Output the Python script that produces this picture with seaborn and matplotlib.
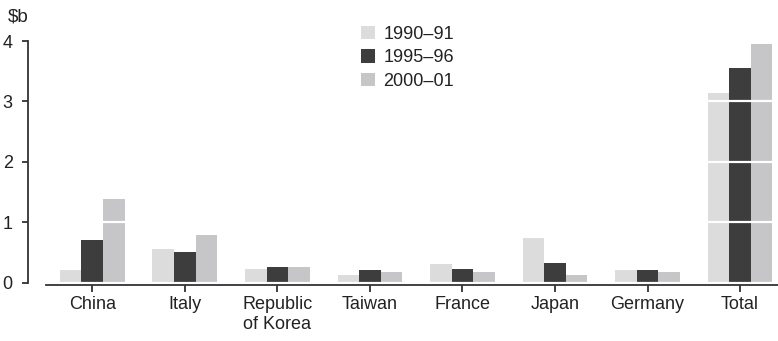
import pandas as pd
import seaborn as sns
import matplotlib.pyplot as plt

sns.set_style("white")
plt.rcParams['font.family'] = ['Liberation Sans', 'DejaVu Sans']

countries = ["China", "Italy", "Republic\nof Korea", "Taiwan", "France", "Japan", "Germany", "Total"]
years = ["1990–91", "1995–96", "2000–01"]
v_1990 = [0.21, 0.55, 0.23, 0.12, 0.30, 0.74, 0.21, 3.14]
v_1995 = [0.71, 0.50, 0.26, 0.21, 0.23, 0.33, 0.21, 3.55]
v_2000 = [1.39, 0.78, 0.26, 0.17, 0.17, 0.12, 0.17, 3.95]
colours = ["#dcdcdd", "#3d3d3d", "#c6c6c8"]

df = pd.DataFrame({
    "country": countries * 3,
    "year": [years[0]] * 8 + [years[1]] * 8 + [years[2]] * 8,
    "value": v_1990 + v_1995 + v_2000,
})

fig = plt.figure(figsize=(7.78, 3.41), dpi=100)
ax = fig.add_axes([46 / 778, (341 - 282.5) / 341, 1 - 46 / 778, 241.5 / 341])

sns.barplot(data=df, x="country", y="value", hue="year", palette=colours,
            width=0.7, linewidth=0, saturation=1, ax=ax)

ax.set_xlim(-0.5, 7.41)
ax.set_ylim(0, 4)
ax.set_yticks([0, 1, 2, 3, 4])
ax.set_xlabel("")
ax.set_ylabel("")

# white lines cut through the bars
ax.set_axisbelow(False)
ax.yaxis.grid(True, color="white", linewidth=1.6)
ax.xaxis.grid(False)

for side in ["top", "right"]:
    ax.spines[side].set_visible(False)
ax.spines["left"].set_position(("outward", 13))
ax.spines["bottom"].set_position(("outward", 2))
for side in ["left", "bottom"]:
    ax.spines[side].set_color("#333333")
    ax.spines[side].set_linewidth(1.3)

ax.tick_params(axis="y", direction="out", length=4, width=1.3, color="#333333",
               labelsize=13, labelcolor="#222222", pad=7, left=True)
ax.tick_params(axis="x", direction="out", length=5, width=1.3, color="#333333",
               labelsize=13, labelcolor="#222222", pad=3, bottom=True)

fig.text(8 / 778, 1 - 17 / 341, "$b", fontsize=13.5, color="#222222", va="center")

leg = ax.legend(loc="upper left", bbox_to_anchor=(352 / 778, 1 - 17 / 341),
                bbox_transform=fig.transFigure, frameon=False, fontsize=13,
                handlelength=0.75, handleheight=0.75, handletextpad=0.5,
                labelspacing=0.35, borderpad=0)
for t in leg.get_texts():
    t.set_color("#222222")

fig.savefig("out.png", dpi=100)
